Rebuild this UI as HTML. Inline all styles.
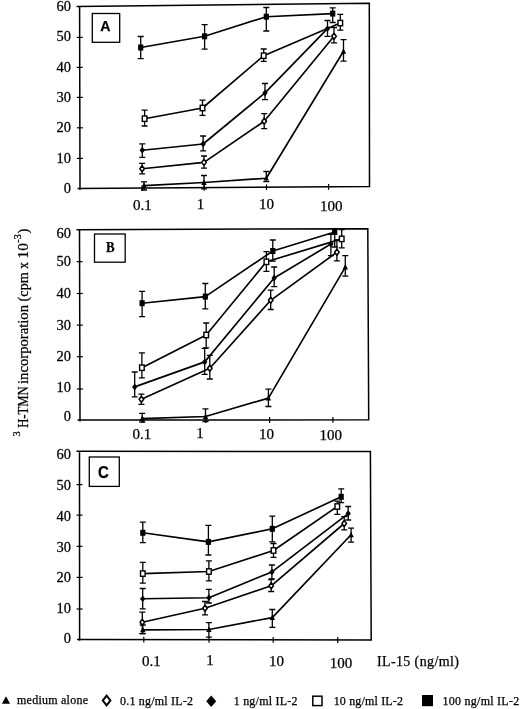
<!DOCTYPE html>
<html><head><meta charset="utf-8"><title>Figure</title>
<style>
html,body{margin:0;padding:0;background:#fff;}
body{width:520px;height:709px;overflow:hidden;font-family:"Liberation Serif",serif;}
</style></head><body>
<svg width="520" height="709" viewBox="0 0 520 709" style="display:block;will-change:transform">
<rect width="520" height="709" fill="#fff"/>
<g font-family="'Liberation Serif', serif" fill="#000"><style>text{stroke:#000;stroke-width:0.25px}</style>
<path d="M76.6 6.5L369.3 3.3L369.5 186.5L77.5 188.6M79.6 6.5L80.0 190.1" fill="none" stroke="#000" stroke-width="1.5" stroke-linejoin="miter"/>
<line x1="76.7" y1="37.4" x2="82.7" y2="37.4" stroke="#000" stroke-width="1.2"/>
<line x1="76.7" y1="67.4" x2="82.7" y2="67.4" stroke="#000" stroke-width="1.2"/>
<line x1="76.8" y1="97.4" x2="82.8" y2="97.4" stroke="#000" stroke-width="1.2"/>
<line x1="76.9" y1="127.8" x2="82.9" y2="127.8" stroke="#000" stroke-width="1.2"/>
<line x1="76.9" y1="158.4" x2="82.9" y2="158.4" stroke="#000" stroke-width="1.2"/>
<text transform="translate(71.0,11.0) scale(1.05,1)" font-size="13.8" text-anchor="end">60</text>
<text transform="translate(71.0,41.0) scale(1.05,1)" font-size="13.8" text-anchor="end">50</text>
<text transform="translate(71.0,71.8) scale(1.05,1)" font-size="13.8" text-anchor="end">40</text>
<text transform="translate(71.0,101.9) scale(1.05,1)" font-size="13.8" text-anchor="end">30</text>
<text transform="translate(71.0,131.8) scale(1.05,1)" font-size="13.8" text-anchor="end">20</text>
<text transform="translate(71.0,163.3) scale(1.05,1)" font-size="13.8" text-anchor="end">10</text>
<text transform="translate(71.0,193.1) scale(1.05,1)" font-size="13.8" text-anchor="end">0</text>
<line x1="142.1" y1="185.3" x2="142.1" y2="191.1" stroke="#000" stroke-width="1.2"/>
<text transform="translate(142.3,209.7) scale(1.09,1)" font-size="13.8" text-anchor="middle">0.1</text>
<line x1="204.2" y1="184.9" x2="204.2" y2="190.7" stroke="#000" stroke-width="1.2"/>
<text transform="translate(200.5,208.5) scale(1.09,1)" font-size="13.8" text-anchor="middle">1</text>
<line x1="266.5" y1="184.4" x2="266.5" y2="190.2" stroke="#000" stroke-width="1.2"/>
<text transform="translate(266.5,209.4) scale(1.09,1)" font-size="13.8" text-anchor="middle">10</text>
<line x1="328.6" y1="184.0" x2="328.6" y2="189.8" stroke="#000" stroke-width="1.2"/>
<text transform="translate(331.3,210.7) scale(1.09,1)" font-size="13.8" text-anchor="middle">100</text>
<rect x="92.3" y="13.5" width="27.4" height="28.8" fill="#fff" stroke="#000" stroke-width="1.3"/>
<text x="105.4" y="31.1" font-size="14.2" font-weight="bold" font-family="'Liberation Sans', sans-serif" text-anchor="middle">A</text>
<path d="M144.0 185.6L204.0 182.5L266.3 178.2L343.5 51.3" fill="none" stroke="#000" stroke-width="1.65" stroke-linejoin="round"/>
<path d="M142.1 168.7L204.0 162.4L264.2 121.2L334.0 36.3" fill="none" stroke="#000" stroke-width="1.65" stroke-linejoin="round"/>
<path d="M142.3 150.2L203.1 144.0L265.0 92.9L327.5 28.6" fill="none" stroke="#000" stroke-width="1.65" stroke-linejoin="round"/>
<path d="M144.6 118.7L202.5 108.0L263.7 55.7L340.3 23.1" fill="none" stroke="#000" stroke-width="1.65" stroke-linejoin="round"/>
<path d="M140.7 47.5L204.6 36.3L266.3 16.7L332.7 13.6" fill="none" stroke="#000" stroke-width="1.65" stroke-linejoin="round"/>
<path d="M144.0 181.8V190.0M141.0 181.8H147.0M141.0 190.0H147.0" fill="none" stroke="#000" stroke-width="1.3"/>
<path d="M204.0 175.5V188.9M201.0 175.5H207.0M201.0 188.9H207.0" fill="none" stroke="#000" stroke-width="1.3"/>
<path d="M266.3 171.5V181.7M263.3 171.5H269.3M263.3 181.7H269.3" fill="none" stroke="#000" stroke-width="1.3"/>
<path d="M343.5 39.6V61.2M340.5 39.6H346.5M340.5 61.2H346.5" fill="none" stroke="#000" stroke-width="1.3"/>
<path d="M142.1 163.4V173.9M139.1 163.4H145.1M139.1 173.9H145.1" fill="none" stroke="#000" stroke-width="1.3"/>
<path d="M204.0 156.0V168.1M201.0 156.0H207.0M201.0 168.1H207.0" fill="none" stroke="#000" stroke-width="1.3"/>
<path d="M264.2 113.6V128.7M261.2 113.6H267.2M261.2 128.7H267.2" fill="none" stroke="#000" stroke-width="1.3"/>
<path d="M334.0 27.5V42.9M331.0 27.5H337.0M331.0 42.9H337.0" fill="none" stroke="#000" stroke-width="1.3"/>
<path d="M142.3 143.8V157.3M139.3 143.8H145.3M139.3 157.3H145.3" fill="none" stroke="#000" stroke-width="1.3"/>
<path d="M203.1 136.0V150.8M200.1 136.0H206.1M200.1 150.8H206.1" fill="none" stroke="#000" stroke-width="1.3"/>
<path d="M265.0 83.5V99.6M262.0 83.5H268.0M262.0 99.6H268.0" fill="none" stroke="#000" stroke-width="1.3"/>
<path d="M327.5 20.5V36.3M324.5 20.5H330.5M324.5 36.3H330.5" fill="none" stroke="#000" stroke-width="1.3"/>
<path d="M144.6 110.2V126.0M141.6 110.2H147.6M141.6 126.0H147.6" fill="none" stroke="#000" stroke-width="1.3"/>
<path d="M202.5 100.1V115.4M199.5 100.1H205.5M199.5 115.4H205.5" fill="none" stroke="#000" stroke-width="1.3"/>
<path d="M263.7 49.0V61.4M260.7 49.0H266.7M260.7 61.4H266.7" fill="none" stroke="#000" stroke-width="1.3"/>
<path d="M340.3 14.4V30.2M337.3 14.4H343.3M337.3 30.2H343.3" fill="none" stroke="#000" stroke-width="1.3"/>
<path d="M140.7 36.5V58.7M137.7 36.5H143.7M137.7 58.7H143.7" fill="none" stroke="#000" stroke-width="1.3"/>
<path d="M204.6 24.7V49.2M201.6 24.7H207.6M201.6 49.2H207.6" fill="none" stroke="#000" stroke-width="1.3"/>
<path d="M266.3 7.5V31.0M263.3 7.5H269.3M263.3 31.0H269.3" fill="none" stroke="#000" stroke-width="1.3"/>
<path d="M332.7 7.8V22.5M329.7 7.8H335.7M329.7 22.5H335.7" fill="none" stroke="#000" stroke-width="1.3"/>
<path d="M144.00 182.60L146.70 188.00L141.30 188.00Z" fill="#000"/>
<path d="M204.00 179.50L206.70 184.90L201.30 184.90Z" fill="#000"/>
<path d="M266.30 175.20L269.00 180.60L263.60 180.60Z" fill="#000"/>
<path d="M343.50 48.30L346.20 53.70L340.80 53.70Z" fill="#000"/>
<path d="M142.10 165.70L144.40 168.70L142.10 171.70L139.80 168.70Z" fill="#fff" stroke="#000" stroke-width="1.5" stroke-linejoin="round"/>
<path d="M204.00 159.40L206.30 162.40L204.00 165.40L201.70 162.40Z" fill="#fff" stroke="#000" stroke-width="1.5" stroke-linejoin="round"/>
<path d="M264.20 118.20L266.50 121.20L264.20 124.20L261.90 121.20Z" fill="#fff" stroke="#000" stroke-width="1.5" stroke-linejoin="round"/>
<path d="M334.00 33.30L336.30 36.30L334.00 39.30L331.70 36.30Z" fill="#fff" stroke="#000" stroke-width="1.5" stroke-linejoin="round"/>
<path d="M142.30 146.80L145.00 150.20L142.30 153.60L139.60 150.20Z" fill="#000"/>
<path d="M203.10 140.60L205.80 144.00L203.10 147.40L200.40 144.00Z" fill="#000"/>
<path d="M265.00 89.50L267.70 92.90L265.00 96.30L262.30 92.90Z" fill="#000"/>
<path d="M327.50 25.20L330.20 28.60L327.50 32.00L324.80 28.60Z" fill="#000"/>
<rect x="142.30" y="116.00" width="4.60" height="5.40" fill="#fff" stroke="#000" stroke-width="1.4"/>
<rect x="200.20" y="105.30" width="4.60" height="5.40" fill="#fff" stroke="#000" stroke-width="1.4"/>
<rect x="261.40" y="53.00" width="4.60" height="5.40" fill="#fff" stroke="#000" stroke-width="1.4"/>
<rect x="338.00" y="20.40" width="4.60" height="5.40" fill="#fff" stroke="#000" stroke-width="1.4"/>
<rect x="138.10" y="44.50" width="5.20" height="6.00" fill="#000"/>
<rect x="202.00" y="33.30" width="5.20" height="6.00" fill="#000"/>
<rect x="263.70" y="13.70" width="5.20" height="6.00" fill="#000"/>
<rect x="330.10" y="10.60" width="5.20" height="6.00" fill="#000"/>
<path d="M76.5 229.7L367.8 228.7L368.7 419.8L77.5 420.0M79.5 229.7L80.0 421.5" fill="none" stroke="#000" stroke-width="1.5" stroke-linejoin="miter"/>
<line x1="76.6" y1="261.7" x2="82.6" y2="261.7" stroke="#000" stroke-width="1.2"/>
<line x1="76.7" y1="293.5" x2="82.7" y2="293.5" stroke="#000" stroke-width="1.2"/>
<line x1="76.8" y1="325.1" x2="82.8" y2="325.1" stroke="#000" stroke-width="1.2"/>
<line x1="76.8" y1="356.7" x2="82.8" y2="356.7" stroke="#000" stroke-width="1.2"/>
<line x1="76.9" y1="389.0" x2="82.9" y2="389.0" stroke="#000" stroke-width="1.2"/>
<text transform="translate(71.0,237.8) scale(1.05,1)" font-size="13.8" text-anchor="end">60</text>
<text transform="translate(71.0,265.8) scale(1.05,1)" font-size="13.8" text-anchor="end">50</text>
<text transform="translate(71.0,297.6) scale(1.05,1)" font-size="13.8" text-anchor="end">40</text>
<text transform="translate(71.0,329.7) scale(1.05,1)" font-size="13.8" text-anchor="end">30</text>
<text transform="translate(71.0,361.3) scale(1.05,1)" font-size="13.8" text-anchor="end">20</text>
<text transform="translate(71.0,392.3) scale(1.05,1)" font-size="13.8" text-anchor="end">10</text>
<text transform="translate(71.0,420.8) scale(1.05,1)" font-size="13.8" text-anchor="end">0</text>
<line x1="143.0" y1="417.2" x2="143.0" y2="423.0" stroke="#000" stroke-width="1.2"/>
<text transform="translate(141.9,439.0) scale(1.09,1)" font-size="13.8" text-anchor="middle">0.1</text>
<line x1="205.8" y1="417.1" x2="205.8" y2="422.9" stroke="#000" stroke-width="1.2"/>
<text transform="translate(200.0,438.0) scale(1.09,1)" font-size="13.8" text-anchor="middle">1</text>
<line x1="269.6" y1="417.1" x2="269.6" y2="422.9" stroke="#000" stroke-width="1.2"/>
<text transform="translate(266.4,439.0) scale(1.09,1)" font-size="13.8" text-anchor="middle">10</text>
<line x1="332.9" y1="417.0" x2="332.9" y2="422.8" stroke="#000" stroke-width="1.2"/>
<text transform="translate(330.8,440.4) scale(1.09,1)" font-size="13.8" text-anchor="middle">100</text>
<rect x="94.5" y="234.0" width="30.7" height="28.2" fill="#fff" stroke="#000" stroke-width="1.3"/>
<text x="110.2" y="252.2" font-size="15" font-weight="bold" font-family="'Liberation Serif', serif" text-anchor="middle" textLength="8.6" lengthAdjust="spacingAndGlyphs">B</text>
<path d="M142.2 418.6L205.5 416.5L268.4 398.1L345.3 267.1" fill="none" stroke="#000" stroke-width="1.65" stroke-linejoin="round"/>
<path d="M141.4 399.3L209.8 368.2L270.7 300.3L336.9 252.2" fill="none" stroke="#000" stroke-width="1.65" stroke-linejoin="round"/>
<path d="M134.7 386.9L204.7 361.9L274.2 278.0L330.9 244.0" fill="none" stroke="#000" stroke-width="1.65" stroke-linejoin="round"/>
<path d="M141.9 367.7L206.2 335.0L266.4 261.8L341.7 238.9" fill="none" stroke="#000" stroke-width="1.65" stroke-linejoin="round"/>
<path d="M142.1 303.2L205.3 296.6L272.8 251.0L334.7 232.0" fill="none" stroke="#000" stroke-width="1.65" stroke-linejoin="round"/>
<path d="M142.2 413.3V422.0M139.2 413.3H145.2M139.2 422.0H145.2" fill="none" stroke="#000" stroke-width="1.3"/>
<path d="M205.5 408.9V421.5M202.5 408.9H208.5M202.5 421.5H208.5" fill="none" stroke="#000" stroke-width="1.3"/>
<path d="M268.4 389.1V406.5M265.4 389.1H271.4M265.4 406.5H271.4" fill="none" stroke="#000" stroke-width="1.3"/>
<path d="M345.3 255.6V276.1M342.3 255.6H348.3M342.3 276.1H348.3" fill="none" stroke="#000" stroke-width="1.3"/>
<path d="M141.4 394.2V404.3M138.4 394.2H144.4M138.4 404.3H144.4" fill="none" stroke="#000" stroke-width="1.3"/>
<path d="M209.8 355.3V379.0M206.8 355.3H212.8M206.8 379.0H212.8" fill="none" stroke="#000" stroke-width="1.3"/>
<path d="M270.7 290.1V309.5M267.7 290.1H273.7M267.7 309.5H273.7" fill="none" stroke="#000" stroke-width="1.3"/>
<path d="M336.9 240.0V260.9M333.9 240.0H339.9M333.9 260.9H339.9" fill="none" stroke="#000" stroke-width="1.3"/>
<path d="M134.7 372.0V396.9M131.7 372.0H137.7M131.7 396.9H137.7" fill="none" stroke="#000" stroke-width="1.3"/>
<path d="M204.7 348.3V374.3M201.7 348.3H207.7M201.7 374.3H207.7" fill="none" stroke="#000" stroke-width="1.3"/>
<path d="M274.2 267.0V286.6M271.2 267.0H277.2M271.2 286.6H277.2" fill="none" stroke="#000" stroke-width="1.3"/>
<path d="M330.9 234.4V255.6M327.9 234.4H333.9M327.9 255.6H333.9" fill="none" stroke="#000" stroke-width="1.3"/>
<path d="M141.9 352.8V377.9M138.9 352.8H144.9M138.9 377.9H144.9" fill="none" stroke="#000" stroke-width="1.3"/>
<path d="M206.2 323.0V347.9M203.2 323.0H209.2M203.2 347.9H209.2" fill="none" stroke="#000" stroke-width="1.3"/>
<path d="M266.4 251.6V271.3M263.4 251.6H269.4M263.4 271.3H269.4" fill="none" stroke="#000" stroke-width="1.3"/>
<path d="M341.7 229.6V247.9M338.7 229.6H344.7M338.7 247.9H344.7" fill="none" stroke="#000" stroke-width="1.3"/>
<path d="M142.1 291.4V316.7M139.1 291.4H145.1M139.1 316.7H145.1" fill="none" stroke="#000" stroke-width="1.3"/>
<path d="M205.3 283.5V308.8M202.3 283.5H208.3M202.3 308.8H208.3" fill="none" stroke="#000" stroke-width="1.3"/>
<path d="M272.8 240.0V261.2M269.8 240.0H275.8M269.8 261.2H275.8" fill="none" stroke="#000" stroke-width="1.3"/>
<path d="M334.7 229.0V247.0M331.7 229.0H337.7M331.7 247.0H337.7" fill="none" stroke="#000" stroke-width="1.3"/>
<path d="M142.20 415.60L144.90 421.00L139.50 421.00Z" fill="#000"/>
<path d="M205.50 413.50L208.20 418.90L202.80 418.90Z" fill="#000"/>
<path d="M268.40 395.10L271.10 400.50L265.70 400.50Z" fill="#000"/>
<path d="M345.30 264.10L348.00 269.50L342.60 269.50Z" fill="#000"/>
<path d="M141.40 396.30L143.70 399.30L141.40 402.30L139.10 399.30Z" fill="#fff" stroke="#000" stroke-width="1.5" stroke-linejoin="round"/>
<path d="M209.80 365.20L212.10 368.20L209.80 371.20L207.50 368.20Z" fill="#fff" stroke="#000" stroke-width="1.5" stroke-linejoin="round"/>
<path d="M270.70 297.30L273.00 300.30L270.70 303.30L268.40 300.30Z" fill="#fff" stroke="#000" stroke-width="1.5" stroke-linejoin="round"/>
<path d="M336.90 249.20L339.20 252.20L336.90 255.20L334.60 252.20Z" fill="#fff" stroke="#000" stroke-width="1.5" stroke-linejoin="round"/>
<path d="M134.70 383.50L137.40 386.90L134.70 390.30L132.00 386.90Z" fill="#000"/>
<path d="M204.70 358.50L207.40 361.90L204.70 365.30L202.00 361.90Z" fill="#000"/>
<path d="M274.20 274.60L276.90 278.00L274.20 281.40L271.50 278.00Z" fill="#000"/>
<path d="M330.90 240.60L333.60 244.00L330.90 247.40L328.20 244.00Z" fill="#000"/>
<rect x="139.60" y="365.00" width="4.60" height="5.40" fill="#fff" stroke="#000" stroke-width="1.4"/>
<rect x="203.90" y="332.30" width="4.60" height="5.40" fill="#fff" stroke="#000" stroke-width="1.4"/>
<rect x="264.10" y="259.10" width="4.60" height="5.40" fill="#fff" stroke="#000" stroke-width="1.4"/>
<rect x="339.40" y="236.20" width="4.60" height="5.40" fill="#fff" stroke="#000" stroke-width="1.4"/>
<rect x="139.50" y="300.20" width="5.20" height="6.00" fill="#000"/>
<rect x="202.70" y="293.60" width="5.20" height="6.00" fill="#000"/>
<rect x="270.20" y="248.00" width="5.20" height="6.00" fill="#000"/>
<rect x="332.10" y="229.00" width="5.20" height="6.00" fill="#000"/>
<path d="M76.5 451.3L370.4 451.5L371.2 640.0L77.1 639.5M79.5 451.3L79.6 641.0" fill="none" stroke="#000" stroke-width="1.5" stroke-linejoin="miter"/>
<line x1="76.5" y1="484.6" x2="82.5" y2="484.6" stroke="#000" stroke-width="1.2"/>
<line x1="76.5" y1="515.1" x2="82.5" y2="515.1" stroke="#000" stroke-width="1.2"/>
<line x1="76.6" y1="546.3" x2="82.6" y2="546.3" stroke="#000" stroke-width="1.2"/>
<line x1="76.6" y1="577.4" x2="82.6" y2="577.4" stroke="#000" stroke-width="1.2"/>
<line x1="76.6" y1="609.0" x2="82.6" y2="609.0" stroke="#000" stroke-width="1.2"/>
<text transform="translate(71.0,459.2) scale(1.05,1)" font-size="13.8" text-anchor="end">60</text>
<text transform="translate(71.0,489.7) scale(1.05,1)" font-size="13.8" text-anchor="end">50</text>
<text transform="translate(71.0,520.5) scale(1.05,1)" font-size="13.8" text-anchor="end">40</text>
<text transform="translate(71.0,551.5) scale(1.05,1)" font-size="13.8" text-anchor="end">30</text>
<text transform="translate(71.0,582.3) scale(1.05,1)" font-size="13.8" text-anchor="end">20</text>
<text transform="translate(71.0,613.0) scale(1.05,1)" font-size="13.8" text-anchor="end">10</text>
<text transform="translate(71.0,643.2) scale(1.05,1)" font-size="13.8" text-anchor="end">0</text>
<line x1="143.8" y1="636.8" x2="143.8" y2="642.6" stroke="#000" stroke-width="1.2"/>
<text transform="translate(151.4,665.8) scale(1.09,1)" font-size="13.8" text-anchor="middle">0.1</text>
<line x1="209.0" y1="636.9" x2="209.0" y2="642.7" stroke="#000" stroke-width="1.2"/>
<text transform="translate(210.0,664.8) scale(1.09,1)" font-size="13.8" text-anchor="middle">1</text>
<line x1="273.2" y1="637.0" x2="273.2" y2="642.8" stroke="#000" stroke-width="1.2"/>
<text transform="translate(276.5,666.0) scale(1.09,1)" font-size="13.8" text-anchor="middle">10</text>
<line x1="337.7" y1="637.1" x2="337.7" y2="642.9" stroke="#000" stroke-width="1.2"/>
<text transform="translate(341.0,667.7) scale(1.09,1)" font-size="13.8" text-anchor="middle">100</text>
<rect x="89.3" y="457.0" width="30.0" height="29.4" fill="#fff" stroke="#000" stroke-width="1.3"/>
<text x="103.4" y="478.4" font-size="16" font-weight="bold" font-family="'Liberation Sans', sans-serif" text-anchor="middle" textLength="10.8" lengthAdjust="spacingAndGlyphs">C</text>
<path d="M142.8 629.8L208.9 629.5L272.3 617.6L351.1 534.8" fill="none" stroke="#000" stroke-width="1.65" stroke-linejoin="round"/>
<path d="M142.3 622.3L205.0 608.3L271.2 585.8L344.2 523.5" fill="none" stroke="#000" stroke-width="1.65" stroke-linejoin="round"/>
<path d="M142.7 598.8L208.9 597.7L271.9 571.9L348.2 513.6" fill="none" stroke="#000" stroke-width="1.65" stroke-linejoin="round"/>
<path d="M142.8 573.6L208.9 571.5L273.5 550.5L337.3 506.5" fill="none" stroke="#000" stroke-width="1.65" stroke-linejoin="round"/>
<path d="M142.8 532.8L208.4 541.9L272.3 528.8L341.2 496.8" fill="none" stroke="#000" stroke-width="1.65" stroke-linejoin="round"/>
<path d="M142.8 625.0V633.7M139.8 625.0H145.8M139.8 633.7H145.8" fill="none" stroke="#000" stroke-width="1.3"/>
<path d="M208.9 622.7V637.1M205.9 622.7H211.9M205.9 637.1H211.9" fill="none" stroke="#000" stroke-width="1.3"/>
<path d="M272.3 609.5V627.3M269.3 609.5H275.3M269.3 627.3H275.3" fill="none" stroke="#000" stroke-width="1.3"/>
<path d="M351.1 528.2V542.1M348.1 528.2H354.1M348.1 542.1H354.1" fill="none" stroke="#000" stroke-width="1.3"/>
<path d="M142.3 612.2V633.7M139.3 612.2H145.3M139.3 633.7H145.3" fill="none" stroke="#000" stroke-width="1.3"/>
<path d="M205.0 601.5V614.9M202.0 601.5H208.0M202.0 614.9H208.0" fill="none" stroke="#000" stroke-width="1.3"/>
<path d="M271.2 579.5V591.5M268.2 579.5H274.2M268.2 591.5H274.2" fill="none" stroke="#000" stroke-width="1.3"/>
<path d="M344.2 516.6V529.9M341.2 516.6H347.2M341.2 529.9H347.2" fill="none" stroke="#000" stroke-width="1.3"/>
<path d="M142.7 588.5V608.8M139.7 588.5H145.7M139.7 608.8H145.7" fill="none" stroke="#000" stroke-width="1.3"/>
<path d="M208.9 589.3V603.0M205.9 589.3H211.9M205.9 603.0H211.9" fill="none" stroke="#000" stroke-width="1.3"/>
<path d="M271.9 565.0V578.9M268.9 565.0H274.9M268.9 578.9H274.9" fill="none" stroke="#000" stroke-width="1.3"/>
<path d="M348.2 506.5V520.0M345.2 506.5H351.2M345.2 520.0H351.2" fill="none" stroke="#000" stroke-width="1.3"/>
<path d="M142.8 562.4V583.1M139.8 562.4H145.8M139.8 583.1H145.8" fill="none" stroke="#000" stroke-width="1.3"/>
<path d="M208.9 560.9V580.8M205.9 560.9H211.9M205.9 580.8H211.9" fill="none" stroke="#000" stroke-width="1.3"/>
<path d="M273.5 543.5V557.4M270.5 543.5H276.5M270.5 557.4H276.5" fill="none" stroke="#000" stroke-width="1.3"/>
<path d="M337.3 501.2V514.4M334.3 501.2H340.3M334.3 514.4H340.3" fill="none" stroke="#000" stroke-width="1.3"/>
<path d="M142.8 522.2V542.7M139.8 522.2H145.8M139.8 542.7H145.8" fill="none" stroke="#000" stroke-width="1.3"/>
<path d="M208.4 525.4V555.0M205.4 525.4H211.4M205.4 555.0H211.4" fill="none" stroke="#000" stroke-width="1.3"/>
<path d="M272.3 516.1V541.9M269.3 516.1H275.3M269.3 541.9H275.3" fill="none" stroke="#000" stroke-width="1.3"/>
<path d="M341.2 488.9V502.7M338.2 488.9H344.2M338.2 502.7H344.2" fill="none" stroke="#000" stroke-width="1.3"/>
<path d="M142.80 626.80L145.50 632.20L140.10 632.20Z" fill="#000"/>
<path d="M208.90 626.50L211.60 631.90L206.20 631.90Z" fill="#000"/>
<path d="M272.30 614.60L275.00 620.00L269.60 620.00Z" fill="#000"/>
<path d="M351.10 531.80L353.80 537.20L348.40 537.20Z" fill="#000"/>
<path d="M142.30 619.30L144.60 622.30L142.30 625.30L140.00 622.30Z" fill="#fff" stroke="#000" stroke-width="1.5" stroke-linejoin="round"/>
<path d="M205.00 605.30L207.30 608.30L205.00 611.30L202.70 608.30Z" fill="#fff" stroke="#000" stroke-width="1.5" stroke-linejoin="round"/>
<path d="M271.20 582.80L273.50 585.80L271.20 588.80L268.90 585.80Z" fill="#fff" stroke="#000" stroke-width="1.5" stroke-linejoin="round"/>
<path d="M344.20 520.50L346.50 523.50L344.20 526.50L341.90 523.50Z" fill="#fff" stroke="#000" stroke-width="1.5" stroke-linejoin="round"/>
<path d="M142.70 595.40L145.40 598.80L142.70 602.20L140.00 598.80Z" fill="#000"/>
<path d="M208.90 594.30L211.60 597.70L208.90 601.10L206.20 597.70Z" fill="#000"/>
<path d="M271.90 568.50L274.60 571.90L271.90 575.30L269.20 571.90Z" fill="#000"/>
<path d="M348.20 510.20L350.90 513.60L348.20 517.00L345.50 513.60Z" fill="#000"/>
<rect x="140.50" y="570.90" width="4.60" height="5.40" fill="#fff" stroke="#000" stroke-width="1.4"/>
<rect x="206.60" y="568.80" width="4.60" height="5.40" fill="#fff" stroke="#000" stroke-width="1.4"/>
<rect x="271.20" y="547.80" width="4.60" height="5.40" fill="#fff" stroke="#000" stroke-width="1.4"/>
<rect x="335.00" y="503.80" width="4.60" height="5.40" fill="#fff" stroke="#000" stroke-width="1.4"/>
<rect x="140.20" y="529.80" width="5.20" height="6.00" fill="#000"/>
<rect x="205.80" y="538.90" width="5.20" height="6.00" fill="#000"/>
<rect x="269.70" y="525.80" width="5.20" height="6.00" fill="#000"/>
<rect x="338.60" y="493.80" width="5.20" height="6.00" fill="#000"/>
<text x="376.9" y="666.4" font-size="14" textLength="82" lengthAdjust="spacing">IL-15 (ng/ml)</text>
<g transform="translate(28.4,440) rotate(-90)">
<text x="3.6" y="-8.2" font-size="10.4">3</text>
<text x="12.2" y="0" font-size="14.5" textLength="41.6" lengthAdjust="spacingAndGlyphs">H-TMN</text>
<text x="56.0" y="0" font-size="14.5" textLength="79" lengthAdjust="spacingAndGlyphs">incorporation</text>
<text x="138.6" y="0" font-size="14.5" textLength="29.2" lengthAdjust="spacingAndGlyphs">(cpm</text>
<text x="171.3" y="0" font-size="14.5" textLength="6.6" lengthAdjust="spacingAndGlyphs">x</text>
<text x="181.6" y="0" font-size="14.5" textLength="15.2" lengthAdjust="spacingAndGlyphs">10</text>
<text x="196.9" y="-7.1" font-size="10.4" textLength="9" lengthAdjust="spacingAndGlyphs">-3</text>
<text x="206.4" y="0" font-size="14.5">)</text>
</g>
<path d="M6 696.2L10.1 703.8L1.9 703.8Z" fill="#000"/>
<text x="17" y="704.3" font-size="12" textLength="71" lengthAdjust="spacing">medium alone</text>
<path d="M106.6 695.6L110.4 700.5L106.6 705.4L102.8 700.5Z" fill="#fff" stroke="#000" stroke-width="2" stroke-linejoin="miter"/>
<text x="120" y="705" font-size="12" textLength="73" lengthAdjust="spacing">0.1 ng/ml IL-2</text>
<path d="M211.2 695.4L216.2 701.2L211.2 707L206.2 701.2Z" fill="#000"/>
<text x="233.7" y="705" font-size="12" textLength="63.8" lengthAdjust="spacing">1 ng/ml IL-2</text>
<rect x="312.8" y="696.2" width="9.2" height="9.4" fill="#fff" stroke="#000" stroke-width="1.5"/>
<text x="333.7" y="705.3" font-size="12" textLength="69.3" lengthAdjust="spacing">10 ng/ml IL-2</text>
<rect x="422" y="695" width="11" height="11.2" fill="#000"/>
<text x="442.5" y="704.6" font-size="12" textLength="76.7" lengthAdjust="spacing">100 ng/ml IL-2</text>
</g></svg>
</body></html>
